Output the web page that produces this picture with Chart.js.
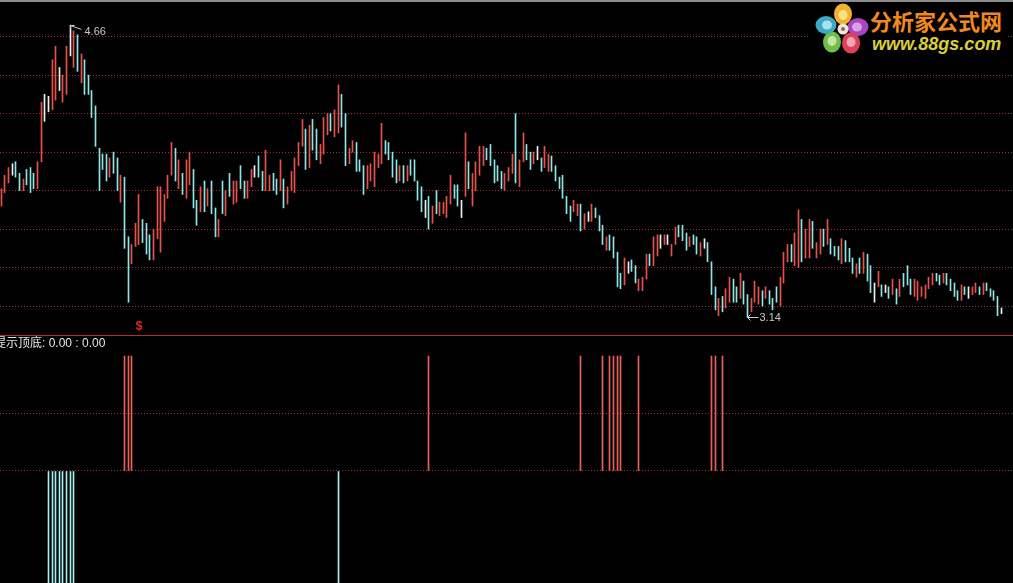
<!DOCTYPE html>
<html>
<head>
<meta charset="utf-8">
<script src="https://cdn.jsdelivr.net/npm/chart.js@4.4.1/dist/chart.umd.min.js"></script>
<style>
  html, body { margin: 0; padding: 0; background: #000; width: 1013px; height: 583px; overflow: hidden; }
  #wrap { position: relative; width: 1013px; height: 583px; background: #000; }
  #kline { position: absolute; left: 0; top: 0; }
  #signal { position: absolute; left: 0; top: 336px; }
  #sep { position: absolute; left: 0; top: 335px; width: 1013px; height: 1px; background: #b8282a; }
  #topline { position: absolute; left: 0; top: 0; width: 1013px; height: 2px; background: #8c8c8c; }
  #logo { position: absolute; left: 808px; top: 2px; width: 200px; height: 54px; background: #000; }
  #logo svg { position: absolute; left: 0; top: 0; }
  #logo .cn { position: absolute; left: 62px; top: 7px; font: bold 22px/22px "Noto Sans CJK SC", sans-serif;
    color: #f08a1e; white-space: nowrap; }
  #logo .url { position: absolute; left: 64px; top: 33px; font: italic bold 18px/18px "Liberation Sans", Arial, sans-serif;
    color: #d9cf3a; white-space: nowrap; }
</style>
</head>
<body>
<div id="wrap">
  <canvas id="kline" width="1013" height="335"></canvas>
  <div id="sep"></div>
  <canvas id="signal" width="1013" height="247"></canvas>
  <div id="topline"></div>
  <div id="logo">
    <svg width="62" height="54">
      <ellipse cx="35" cy="12" rx="9" ry="10.5" fill="#f4b12e"/>
      <ellipse cx="35" cy="13" rx="4.5" ry="5" fill="#fbe08a"/>
      <ellipse cx="50" cy="25" rx="10.5" ry="9" fill="#a945c0"/>
      <ellipse cx="49" cy="25" rx="5" ry="4.5" fill="#d9a2e6"/>
      <ellipse cx="43" cy="41" rx="9" ry="10.5" fill="#e0405a"/>
      <ellipse cx="43" cy="40" rx="4.5" ry="5" fill="#f4a6b4"/>
      <ellipse cx="24" cy="40" rx="9" ry="10.5" fill="#72bd48"/>
      <ellipse cx="24" cy="39" rx="4.5" ry="5" fill="#c4e6a4"/>
      <ellipse cx="18" cy="23" rx="10.5" ry="9" fill="#3fa9c4"/>
      <ellipse cx="19" cy="23" rx="5" ry="4.5" fill="#a8e0ec"/>
      <circle cx="35" cy="27" r="5.5" fill="#efe6dc"/>
      <circle cx="35" cy="27" r="2" fill="#8a6a50"/>
    </svg>
    <div class="cn">分析家公式网</div>
    <div class="url">www.88gs.com</div>
  </div>
</div>
<script>
// 日K线：最高价、最低价、涨跌(1 阳, -1 阴, 0 平)
const highs = [
  3.81,3.88,3.92,3.94,3.95,3.89,3.86,3.91,3.92,3.89,
  3.95,4.26,4.30,4.29,4.48,4.55,4.44,4.40,4.55,4.66,
  4.63,4.61,4.51,4.48,4.40,4.32,4.24,4.02,3.99,3.99,
  3.97,4.00,3.97,3.88,3.87,3.56,3.52,3.63,3.78,3.65,
  3.63,3.57,3.60,3.82,3.82,3.78,3.88,4.05,4.02,3.96,
  3.89,3.96,4.00,3.91,3.75,3.82,3.85,3.81,3.85,3.71,
  3.65,3.85,3.80,3.89,3.85,3.85,3.93,3.85,3.85,3.91,
  3.93,3.98,3.90,4.01,3.88,3.89,3.86,3.96,3.86,3.82,
  3.90,3.97,4.05,4.17,4.12,4.14,4.17,4.12,4.04,4.18,
  4.20,4.20,4.22,4.35,4.30,4.20,4.02,4.06,4.05,3.96,
  3.93,3.93,3.94,4.00,3.99,4.15,4.06,4.05,4.00,3.96,
  3.93,3.93,3.93,3.96,3.96,3.85,3.82,3.75,3.77,3.72,
  3.80,3.74,3.74,3.77,3.88,3.83,3.83,3.75,4.10,3.95,
  3.89,3.95,4.03,4.03,4.02,4.04,3.96,3.93,3.90,3.89,
  3.92,3.99,4.20,3.96,4.10,4.04,4.00,4.00,4.03,3.97,
  4.03,3.99,3.98,3.93,3.87,3.88,3.77,3.72,3.75,3.73,
  3.73,3.68,3.69,3.73,3.71,3.67,3.62,3.56,3.57,3.56,
  3.48,3.37,3.45,3.43,3.44,3.41,3.34,3.35,3.47,3.47,
  3.56,3.57,3.57,3.57,3.57,3.52,3.61,3.62,3.62,3.58,
  3.56,3.57,3.56,3.53,3.55,3.53,3.43,3.30,3.24,3.25,
  3.29,3.35,3.34,3.30,3.37,3.33,3.26,3.24,3.33,3.30,
  3.28,3.30,3.28,3.24,3.30,3.35,3.48,3.52,3.52,3.58,
  3.70,3.65,3.60,3.65,3.64,3.53,3.60,3.60,3.65,3.55,
  3.51,3.51,3.55,3.54,3.50,3.45,3.42,3.45,3.48,3.47,
  3.41,3.32,3.38,3.31,3.31,3.30,3.34,3.29,3.34,3.37,
  3.41,3.34,3.34,3.33,3.30,3.31,3.35,3.37,3.37,3.36,
  3.37,3.37,3.34,3.32,3.28,3.31,3.30,3.30,3.30,3.32,
  3.30,3.32,3.32,3.29,3.28,3.25,3.19
];
const lows = [
  3.72,3.79,3.84,3.88,3.87,3.80,3.80,3.83,3.79,3.81,
  3.81,3.95,4.16,4.21,4.22,4.27,4.32,4.26,4.30,4.50,
  4.44,4.42,4.36,4.30,4.30,4.18,4.03,3.80,3.91,3.85,
  3.87,3.89,3.80,3.74,3.50,3.22,3.42,3.51,3.52,3.53,
  3.47,3.44,3.44,3.55,3.48,3.64,3.76,3.88,3.85,3.81,
  3.78,3.76,3.83,3.71,3.62,3.69,3.69,3.72,3.68,3.56,
  3.56,3.68,3.67,3.77,3.73,3.74,3.81,3.76,3.76,3.82,
  3.87,3.87,3.80,3.80,3.80,3.80,3.78,3.80,3.71,3.73,
  3.80,3.79,3.93,4.03,3.91,3.92,4.01,3.96,3.94,3.99,
  4.09,4.11,4.08,4.10,4.13,3.93,3.94,4.00,3.90,3.90,
  3.78,3.81,3.85,3.82,3.92,3.94,3.99,3.96,3.87,3.84,
  3.85,3.84,3.85,3.88,3.85,3.75,3.69,3.66,3.60,3.63,
  3.68,3.67,3.68,3.66,3.73,3.76,3.72,3.66,3.77,3.81,
  3.72,3.80,3.88,3.93,3.96,3.93,3.84,3.85,3.81,3.80,
  3.85,3.89,3.84,3.82,3.95,3.96,3.91,3.94,3.96,3.90,
  3.92,3.90,3.90,3.85,3.81,3.76,3.68,3.64,3.69,3.67,
  3.59,3.60,3.64,3.64,3.66,3.59,3.52,3.49,3.49,3.45,
  3.30,3.29,3.31,3.37,3.38,3.32,3.28,3.28,3.34,3.41,
  3.41,3.46,3.50,3.52,3.52,3.46,3.52,3.56,3.54,3.49,
  3.51,3.52,3.47,3.46,3.50,3.43,3.26,3.18,3.15,3.17,
  3.19,3.22,3.22,3.22,3.24,3.21,3.14,3.17,3.22,3.21,
  3.20,3.24,3.21,3.18,3.22,3.20,3.32,3.43,3.43,3.41,
  3.40,3.43,3.45,3.45,3.50,3.45,3.47,3.51,3.52,3.47,
  3.46,3.44,3.42,3.43,3.43,3.37,3.35,3.37,3.37,3.33,
  3.27,3.22,3.30,3.25,3.27,3.24,3.26,3.21,3.25,3.30,
  3.31,3.26,3.25,3.23,3.25,3.24,3.29,3.31,3.33,3.31,
  3.32,3.31,3.28,3.25,3.23,3.23,3.26,3.24,3.26,3.27,
  3.26,3.26,3.28,3.25,3.23,3.15,3.16
];
const moves = [
  1,1,1,0,-1,-1,1,-1,-1,-1,
  1,1,0,0,1,1,0,1,1,0,
  1,-1,1,-1,-1,-1,-1,-1,-1,-1,
  1,-1,-1,1,-1,-1,1,1,1,-1,
  -1,-1,1,1,1,1,1,1,-1,1,
  -1,1,1,-1,-1,1,-1,1,-1,-1,
  1,-1,1,-1,1,1,-1,-1,1,1,
  0,-1,-1,1,1,-1,-1,1,-1,1,
  1,1,1,1,-1,1,-1,-1,1,1,
  1,-1,1,1,-1,-1,1,1,-1,-1,
  -1,1,1,1,1,1,-1,-1,-1,-1,
  1,-1,1,-1,-1,-1,-1,0,-1,1,
  -1,1,1,1,1,-1,-1,0,1,-1,
  1,1,1,1,-1,-1,-1,-1,-1,1,
  1,1,-1,1,1,-1,-1,1,0,-1,
  1,1,-1,-1,-1,-1,-1,-1,1,1,
  -1,1,0,1,-1,-1,-1,1,-1,-1,
  -1,-1,1,0,-1,-1,1,1,1,-1,
  1,1,0,1,0,1,1,-1,-1,-1,
  1,-1,-1,1,0,-1,-1,-1,1,-1,
  1,1,-1,-1,1,-1,-1,1,1,1,
  -1,1,-1,-1,-1,1,1,1,-1,1,
  1,-1,1,1,-1,1,1,-1,1,-1,
  -1,-1,1,-1,-1,-1,1,-1,1,-1,
  -1,0,1,-1,0,-1,1,-1,1,-1,
  -1,-1,1,1,1,1,1,1,-1,-1,
  1,-1,-1,-1,-1,1,-1,0,1,1,
  -1,1,-1,-1,-1,-1,0
];
const priceGrid = [3.2, 3.4, 3.6, 3.8, 4.0, 4.2, 4.4, 4.6];

// 提示顶底：见底信号(红)、见顶信号(青) 所在K线序号
const bottomSignalBars = [34, 35, 36, 118, 160, 166, 168, 169, 170, 171, 176, 196, 197, 199];
const topSignalBars = [13, 14, 15, 16, 17, 18, 19, 20, 93];
const signalGrid = [0, 0.5];
const sellMarkBar = 38;

const UP = '#e8524a', DOWN = '#8fe6e6', FLAT = '#eeeeee';
const GRID = '#a03030';

const barData = highs.map((h, i) => ({ x: i, y: [lows[i], h] }));
const barColors = moves.map(m => m > 0 ? UP : (m < 0 ? DOWN : FLAT));

// 1px 细线对齐到像素中心，避免抗锯齿发虚
const crispBars = {
  id: 'crispBars',
  beforeDatasetsDraw(chart) {
    chart.data.datasets.forEach((ds, i) => {
      chart.getDatasetMeta(i).data.forEach(el => { el.x = Math.floor(el.x) + 0.5; });
    });
  }
};

const klineMarks = {
  id: 'klineMarks',
  afterDatasetsDraw(chart) {
    const { ctx, scales: { x, y }, chartArea } = chart;
    ctx.save();
    ctx.strokeStyle = '#c8c8c8';
    ctx.fillStyle = '#c8c8c8';
    ctx.lineWidth = 1;
    ctx.font = '11px "Liberation Sans", Arial, sans-serif';
    ctx.textBaseline = 'middle';
    // 最高价
    const hi = highs.indexOf(Math.max(...highs));
    let px = Math.floor(x.getPixelForValue(hi)) + 0.5;
    let py = Math.round(y.getPixelForValue(highs[hi])) + 0.5;
    ctx.beginPath();
    ctx.moveTo(px, py); ctx.lineTo(px + 11, py + 4);
    ctx.moveTo(px + 4, py); ctx.lineTo(px, py); ctx.lineTo(px, py + 4);
    ctx.stroke();
    ctx.fillText(highs[hi].toFixed(2), px + 14, py + 6);
    // 最低价
    const lo = lows.indexOf(Math.min(...lows));
    px = Math.floor(x.getPixelForValue(lo)) + 0.5;
    py = Math.round(y.getPixelForValue(lows[lo])) - 0.5;
    ctx.beginPath();
    ctx.moveTo(px, py); ctx.lineTo(px + 11, py);
    ctx.moveTo(px + 3, py - 3); ctx.lineTo(px, py); ctx.lineTo(px + 3, py + 3);
    ctx.stroke();
    ctx.fillText(lows[lo].toFixed(2), px + 12, py);
    // 卖出标记
    ctx.fillStyle = '#e02828';
    ctx.font = 'bold 12px "Liberation Sans", Arial, sans-serif';
    ctx.textAlign = 'center';
    ctx.fillText('$', x.getPixelForValue(sellMarkBar), chartArea.bottom - 8);
    ctx.restore();
  }
};

const signalTitle = {
  id: 'signalTitle',
  afterDraw(chart) {
    const ctx = chart.ctx;
    ctx.save();
    ctx.fillStyle = '#e6e6e6';
    ctx.font = '12px "Liberation Sans", "Noto Sans CJK SC", sans-serif';
    ctx.textBaseline = 'middle';
    ctx.fillText('提示顶底: 0.00 : 0.00', -6, 8);
    ctx.restore();
  }
};

const xAxis = { type: 'linear', min: -0.36, max: 279.25, offset: false, display: false };

new Chart(document.getElementById('kline'), {
  type: 'bar',
  data: {
    datasets: [{
      data: barData,
      backgroundColor: barColors,
      barThickness: 1,
      borderWidth: 0
    }]
  },
  options: {
    responsive: false,
    animation: false,
    events: [],
    layout: { padding: 0 },
    plugins: { legend: { display: false }, tooltip: { enabled: false } },
    scales: {
      x: xAxis,
      y: {
        min: 3.0496, max: 4.7907,
        ticks: { display: false },
        grid: { color: GRID, drawTicks: false },
        border: { display: false, dash: [1, 2] },
        afterBuildTicks: s => { s.ticks = priceGrid.map(v => ({ value: v })); },
        afterFit: s => { s.width = 0; }
      }
    }
  },
  plugins: [crispBars, klineMarks]
});

const signalData = bottomSignalBars.map(i => ({ x: i, y: [0, 1] }));
const topData = topSignalBars.map(i => ({ x: i, y: [0, -1] }));

new Chart(document.getElementById('signal'), {
  type: 'bar',
  data: {
    datasets: [
      { data: signalData, backgroundColor: '#e8605a', barThickness: 1, borderWidth: 0, grouped: false },
      { data: topData, backgroundColor: '#a4f0f0', barThickness: 1, borderWidth: 0, grouped: false }
    ]
  },
  options: {
    responsive: false,
    animation: false,
    events: [],
    layout: { padding: 0 },
    plugins: { legend: { display: false }, tooltip: { enabled: false } },
    scales: {
      x: { ...xAxis },
      y: {
        min: -0.974, max: 1.174,
        ticks: { display: false },
        grid: { color: GRID, drawTicks: false },
        border: { display: false, dash: [1, 2] },
        afterBuildTicks: s => { s.ticks = signalGrid.map(v => ({ value: v })); },
        afterFit: s => { s.width = 0; }
      }
    }
  },
  plugins: [crispBars, signalTitle]
});
</script>
</body>
</html>
